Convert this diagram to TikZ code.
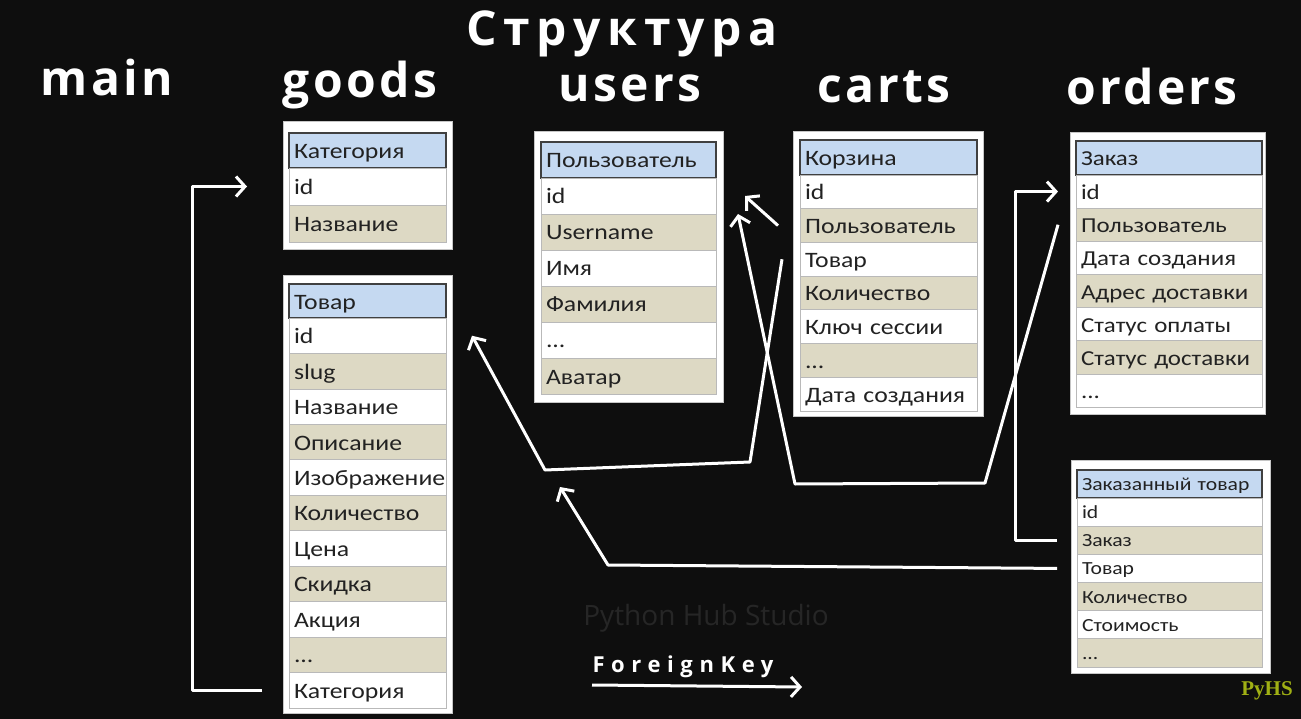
\documentclass[tikz,border=0pt]{standalone}
\usepackage{fontspec}
\usetikzlibrary{arrows.meta}
\usetikzlibrary{positioning}
\newfontfamily\cellfont[FakeStretch=1.17]{Carlito}
\newfontfamily\titlefont[LetterSpace=7]{Open Sans}
\newfontfamily\bigtitlefont[LetterSpace=14]{Open Sans}
\newfontfamily\keyfont[LetterSpace=30]{Open Sans}
\newfontfamily\wmfont{Open Sans}
\newfontfamily\markfont{Liberation Serif}
\definecolor{bg}{RGB}{14,14,14}
\definecolor{hdblue}{RGB}{197,217,241}
\definecolor{rowtan}{RGB}{221,217,196}
\definecolor{ink}{RGB}{34,34,34}
\definecolor{wmark}{RGB}{38,38,38}
\definecolor{pyhs}{RGB}{160,176,20}

\begin{document}
\begin{tikzpicture}[x=1pt,y=-1pt,
  title/.style={text=white,font=\titlefont\bfseries\fontsize{48}{54}\selectfont,anchor=base},
  frame/.style={fill=white,draw=gray!45,line width=1pt},
  cellfit/.style={text height=19pt,text depth=3pt,font=\cellfont\fontsize{22}{26}\selectfont},
  cell/.style={draw=gray!55,line width=0.8pt,outer sep=0pt,inner xsep=5pt,inner ysep=0pt,
    align=left,text=ink,cellfit},
  hd/.style={cell,fill=hdblue,draw=black!75,line width=1.2pt,anchor=north west},
  wr/.style={cell,fill=white},
  tr/.style={cell,fill=rowtan},
  fk/.style={draw=white,line width=3pt,line join=round,-{Straight Barb[length=9pt,width=20pt]}}]

%Background
\fill[bg] (0,0) rectangle (1301,719);

% Titles
\node[title,font=\bigtitlefont\bfseries\fontsize{48}{54}\selectfont] (t-head) at (622,46) {Структура};
\node[title] (t-main) at (107,96) {main};
\node[title] (t-goods) at (360,98) {goods};
\node[title] (t-users) at (630,102) {users};
\node[title] (t-carts) at (884,103) {carts};
\node[title] (t-orders) at (1152,105) {orders};

%Shape: table frames
\draw[frame] (283,122) rectangle (452,250);
\draw[frame] (283,276) rectangle (452,713);
\draw[frame] (534,132) rectangle (723,402);
\draw[frame] (793,132) rectangle (983,416);
\draw[frame] (1070,133) rectangle (1265,414);
\draw[frame] (1071,460) rectangle (1270,673);

%Table: Категория
\begin{scope}[every node/.append style={text width=147pt,minimum height=37pt}]
\node[hd,minimum height=35pt] (gc-head) at (289,133) {Категория};
\node[wr,below=0pt of gc-head] (gc-id) {id};
\node[tr,below=0pt of gc-id] (gc-name) {Название};
\end{scope}

%Table: Товар
\begin{scope}[every node/.append style={text width=147pt,minimum height=35.45pt}]
\node[hd,minimum height=34pt] (gi-head) at (289,284) {Товар};
\node[wr,below=0pt of gi-head] (gi-id) {id};
\node[tr,below=0pt of gi-id] (gi-slug) {slug};
\node[wr,below=0pt of gi-slug] (gi-name) {Название};
\node[tr,below=0pt of gi-name] (gi-desc) {Описание};
\node[wr,below=0pt of gi-desc] (gi-img) {Изображение};
\node[tr,below=0pt of gi-img] (gi-qty) {Количество};
\node[wr,below=0pt of gi-qty] (gi-price) {Цена};
\node[tr,below=0pt of gi-price] (gi-disc) {Скидка};
\node[wr,below=0pt of gi-disc] (gi-promo) {Акция};
\node[tr,below=0pt of gi-promo] (gi-more) {...};
\node[wr,below=0pt of gi-more] (gi-cat) {Категория};
\end{scope}

%Table: Пользователь
\begin{scope}[every node/.append style={text width=165pt,minimum height=36pt}]
\node[hd,minimum height=36pt] (u-head) at (541,142) {Пользователь};
\node[wr,below=0pt of u-head] (u-id) {id};
\node[tr,below=0pt of u-id] (u-login) {Username};
\node[wr,below=0pt of u-login] (u-first) {Имя};
\node[tr,below=0pt of u-first] (u-last) {Фамилия};
\node[wr,below=0pt of u-last] (u-more) {...};
\node[tr,below=0pt of u-more] (u-avatar) {Аватар};
\end{scope}

%Table: Корзина
\begin{scope}[every node/.append style={text width=167pt,minimum height=33.7pt}]
\node[hd,minimum height=35pt] (c-head) at (800,140) {Корзина};
\node[wr,below=0pt of c-head] (c-id) {id};
\node[tr,below=0pt of c-id] (c-user) {Пользователь};
\node[wr,below=0pt of c-user] (c-goods) {Товар};
\node[tr,below=0pt of c-goods] (c-qty) {Количество};
\node[wr,below=0pt of c-qty] (c-key) {Ключ сессии};
\node[tr,below=0pt of c-key] (c-more) {...};
\node[wr,below=0pt of c-more] (c-date) {Дата создания};
\end{scope}

%Table: Заказ
\begin{scope}[every node/.append style={text width=176pt,inner xsep=4pt,minimum height=33.15pt},
    cellfit/.style={text height=19pt,text depth=3pt,font=\cellfont\fontsize{21.3}{25}\selectfont}]
\node[hd,minimum height=34pt] (o-head) at (1076,141) {Заказ};
\node[wr,below=0pt of o-head] (o-id) {id};
\node[tr,below=0pt of o-id] (o-user) {Пользователь};
\node[wr,below=0pt of o-user] (o-date) {Дата создания};
\node[tr,below=0pt of o-date] (o-addr) {Адрес доставки};
\node[wr,below=0pt of o-addr] (o-pay) {Статус оплаты};
\node[tr,below=0pt of o-pay] (o-ship) {\mbox{Статус доставки}};
\node[wr,below=0pt of o-ship] (o-more) {...};
\end{scope}

%Table: Заказанный товар
\begin{scope}[every node/.append style={text width=175pt,minimum height=28.17pt},
    cellfit/.style={text height=15.5pt,text depth=2.5pt,font=\cellfont\fontsize{18.5}{22}\selectfont}]
\node[hd,minimum height=28pt] (oi-head) at (1077,470) {Заказанный товар};
\node[wr,below=0pt of oi-head] (oi-id) {id};
\node[tr,below=0pt of oi-id] (oi-order) {Заказ};
\node[wr,below=0pt of oi-order] (oi-goods) {Товар};
\node[tr,below=0pt of oi-goods] (oi-qty) {Количество};
\node[wr,below=0pt of oi-qty] (oi-cost) {Стоимость};
\node[tr,below=0pt of oi-cost] (oi-more) {...};
\end{scope}

%Bend points
\coordinate (k1) at (750,462);
\coordinate (k2) at (545,470);
\coordinate (k3) at (985,483);
\coordinate (k4) at (795,484);
\coordinate (k5) at (608,565);
\coordinate (k6) at (560,487);

%Connectors: ForeignKey
\draw[fk] ([xshift=-27pt]gi-cat.west) -| ([xshift=-97pt]gc-id.west) -- ([xshift=-42pt]gc-id.west);
\draw[fk] ([xshift=-22pt]c-user.west) -- ([xshift=29pt]u-id.east);
\draw[fk] ([xshift=-18pt]c-goods.west) -- (k1) -- (k2) -- ([xshift=26pt]gi-id.east);
\draw[fk] ([xshift=-18pt]o-user.west) -- (k3) -- (k4) -- ([xshift=22pt]u-id.south east);
\draw[fk] ([xshift=-20pt]oi-order.west) -| ([xshift=-61pt]o-id.west) -- ([xshift=-18pt]o-id.west);
\draw[fk] ([xshift=-20pt]oi-goods.west) -- (k5) -- (k6);

%Legend
\coordinate (fk-a) at (592,685);
\coordinate (fk-b) at (802,687);
\draw[fk] (fk-a) -- (fk-b);
% Text Node
\node[text=white,font=\keyfont\bfseries\fontsize{22}{26}\selectfont,anchor=base] (fk-label) at (683,672) {ForeignKey};
% Text Node
\node[text=wmark,font=\wmfont\fontsize{28}{31}\selectfont,anchor=base] (wm) at (706,625) {Python Hub Studio};
% Text Node
\node[text=pyhs,font=\markfont\bfseries\fontsize{21}{24}\selectfont,anchor=base] (pyhs) at (1267,695) {PyHS};

\end{tikzpicture}
\end{document}
